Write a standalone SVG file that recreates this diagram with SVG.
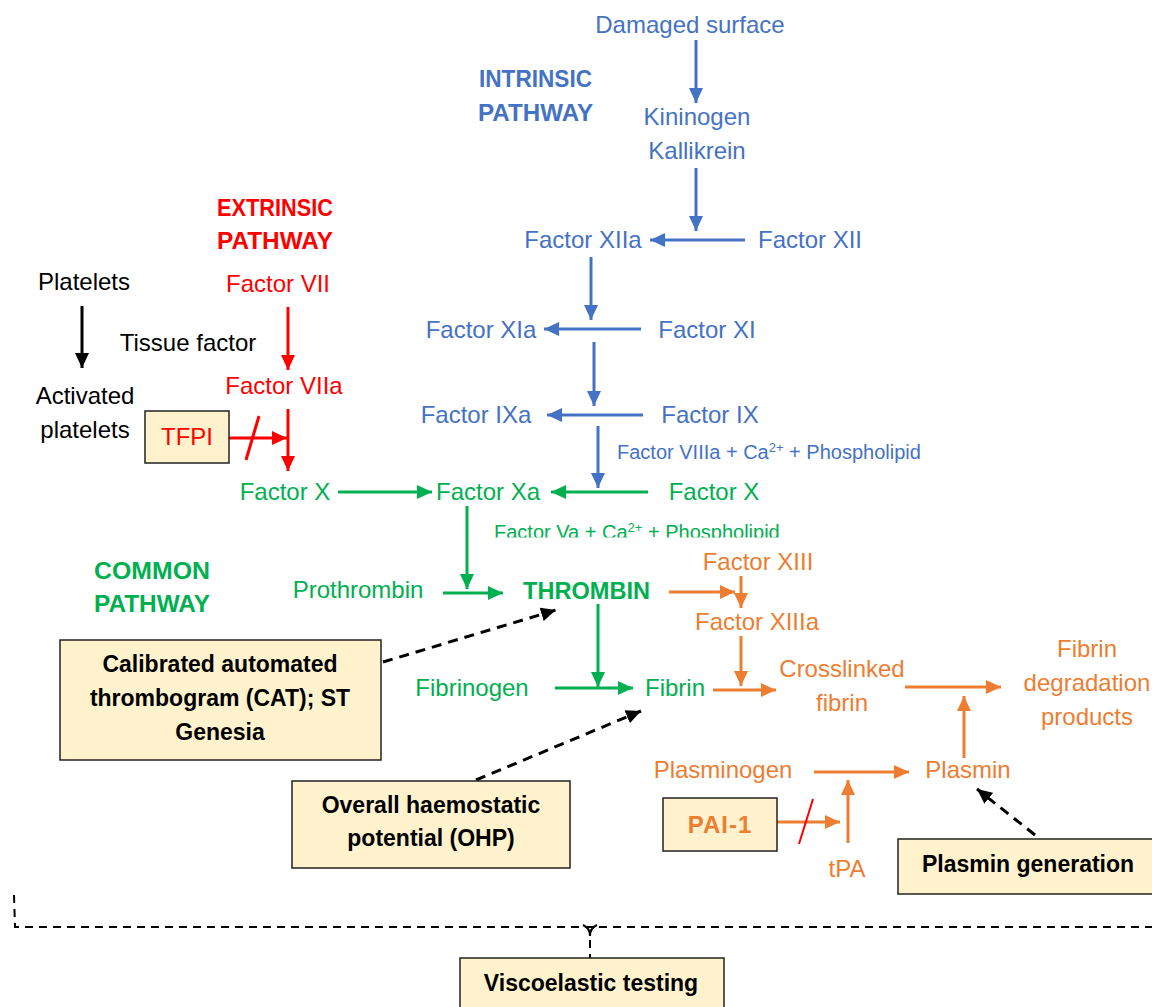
<svg xmlns="http://www.w3.org/2000/svg" width="1152" height="1007" viewBox="0 0 1152 1007">
<style>
text{font-family:"Liberation Sans",Arial,sans-serif;font-size:24px}
.b{fill:#4472C4}.g{fill:#00B050}.r{fill:#FF0000}.o{fill:#ED7D31}.k{fill:#000}
.hd{font-weight:bold;font-size:23px}
.sm{font-size:20px}
.bx{font-weight:bold;font-size:23px;fill:#000}
.box{fill:#FFF2CC;stroke:#222;stroke-width:1.5}
.lb{stroke:#4472C4;stroke-width:3;fill:none}
.lg{stroke:#00B050;stroke-width:3;fill:none}
.lr{stroke:#FF0000;stroke-width:3;fill:none}
.lo{stroke:#ED7D31;stroke-width:3;fill:none}
.lk{stroke:#000;stroke-width:3;fill:none}
.dk{stroke:#000;stroke-width:3;fill:none;stroke-dasharray:10 7}
.dt{stroke:#000;stroke-width:2;fill:none;stroke-dasharray:8 6}
</style>
<defs>
<marker id="ab" markerUnits="userSpaceOnUse" markerWidth="15" markerHeight="14" refX="15" refY="7" orient="auto"><path d="M0,0L15,7L0,14z" fill="#4472C4"/></marker>
<marker id="ag" markerUnits="userSpaceOnUse" markerWidth="15" markerHeight="14" refX="15" refY="7" orient="auto"><path d="M0,0L15,7L0,14z" fill="#00B050"/></marker>
<marker id="ar" markerUnits="userSpaceOnUse" markerWidth="15" markerHeight="14" refX="15" refY="7" orient="auto"><path d="M0,0L15,7L0,14z" fill="#FF0000"/></marker>
<marker id="ao" markerUnits="userSpaceOnUse" markerWidth="15" markerHeight="14" refX="15" refY="7" orient="auto"><path d="M0,0L15,7L0,14z" fill="#ED7D31"/></marker>
<marker id="ak" markerUnits="userSpaceOnUse" markerWidth="15" markerHeight="14" refX="15" refY="7" orient="auto"><path d="M0,0L15,7L0,14z" fill="#000"/></marker>
<clipPath id="clipVa"><rect x="480" y="510" width="330" height="27.5"/></clipPath>
</defs>
<rect width="1152" height="1007" fill="#fff"/>

<g id="connectors">
<line class="lb" x1="696" y1="40" x2="696" y2="103" marker-end="url(#ab)"/>
<line class="lb" x1="696" y1="168" x2="696" y2="231" marker-end="url(#ab)"/>
<line class="lb" x1="745" y1="240" x2="650" y2="240" marker-end="url(#ab)"/>
<line class="lb" x1="591" y1="257" x2="591" y2="320" marker-end="url(#ab)"/>
<line class="lb" x1="641" y1="329" x2="544" y2="329" marker-end="url(#ab)"/>
<line class="lb" x1="594" y1="342" x2="594" y2="406" marker-end="url(#ab)"/>
<line class="lb" x1="643" y1="415" x2="547" y2="415" marker-end="url(#ab)"/>
<line class="lb" x1="598" y1="426" x2="598" y2="488" marker-end="url(#ab)"/>
<line class="lg" x1="648" y1="492" x2="551" y2="492" marker-end="url(#ag)"/>
<line class="lg" x1="338" y1="492" x2="432" y2="492" marker-end="url(#ag)"/>
<line class="lg" x1="467" y1="506" x2="467" y2="589" marker-end="url(#ag)"/>
<line class="lg" x1="443" y1="593" x2="503" y2="593" marker-end="url(#ag)"/>
<line class="lg" x1="598" y1="604" x2="598" y2="687" marker-end="url(#ag)"/>
<line class="lg" x1="555" y1="688" x2="633" y2="688" marker-end="url(#ag)"/>
<line class="lk" x1="82" y1="306" x2="82" y2="368" marker-end="url(#ak)"/>
<line class="lr" x1="288" y1="307" x2="288" y2="370" marker-end="url(#ar)"/>
<line class="lr" x1="288" y1="409" x2="288" y2="471" marker-end="url(#ar)"/>
<line class="lr" x1="229" y1="438" x2="287" y2="438" marker-end="url(#ar)"/>
<line class="lr" x1="246" y1="460" x2="259" y2="416"/>
<line class="lo" x1="669" y1="592" x2="735" y2="592" marker-end="url(#ao)"/>
<line class="lo" x1="741" y1="576" x2="741" y2="608" marker-end="url(#ao)"/>
<line class="lo" x1="741" y1="636" x2="741" y2="686" marker-end="url(#ao)"/>
<line class="lo" x1="713" y1="690" x2="776" y2="690" marker-end="url(#ao)"/>
<line class="lo" x1="905" y1="687" x2="1001" y2="687" marker-end="url(#ao)"/>
<line class="lo" x1="964" y1="758" x2="964" y2="696" marker-end="url(#ao)"/>
<line class="lo" x1="814" y1="772" x2="909" y2="772" marker-end="url(#ao)"/>
<line class="lo" x1="848" y1="843" x2="848" y2="780" marker-end="url(#ao)"/>
<line class="lo" x1="777" y1="822" x2="840" y2="822" marker-end="url(#ao)"/>
<line x1="799" y1="844" x2="813" y2="799" stroke="#FF0000" stroke-width="2"/>
<line class="dk" x1="383" y1="662" x2="556" y2="610" marker-end="url(#ak)"/>
<line class="dk" x1="476" y1="780" x2="641" y2="711" marker-end="url(#ak)"/>
<line class="dk" x1="1035" y1="835" x2="977" y2="789" marker-end="url(#ak)"/>
<path class="dt" d="M14,895 L15,927 L1152,927"/>
<path d="M583,925 Q590,928 590,936 M597,925 Q590,928 590,936" stroke="#000" stroke-width="2" fill="none"/>
<line x1="590" y1="940" x2="590" y2="958" stroke="#000" stroke-width="2" stroke-dasharray="8 6"/>
</g>

<g id="intrinsic-title"><text class="hd b" x="479" y="87" textLength="113" lengthAdjust="spacingAndGlyphs">INTRINSIC</text><text class="hd b" x="478" y="121" textLength="115" lengthAdjust="spacingAndGlyphs">PATHWAY</text></g>
<g id="damaged-surface"><text class="b" x="690" y="33" text-anchor="middle">Damaged surface</text></g>
<g id="kininogen"><text class="b" x="697" y="125" text-anchor="middle">Kininogen</text><text class="b" x="697" y="159" text-anchor="middle">Kallikrein</text></g>
<g id="factor-xiia"><text class="b" x="583" y="248" text-anchor="middle">Factor XIIa</text></g>
<g id="factor-xii"><text class="b" x="810" y="248" text-anchor="middle">Factor XII</text></g>
<g id="factor-xia"><text class="b" x="481" y="338" text-anchor="middle">Factor XIa</text></g>
<g id="factor-xi"><text class="b" x="707" y="338" text-anchor="middle">Factor XI</text></g>
<g id="factor-ixa"><text class="b" x="476" y="423" text-anchor="middle">Factor IXa</text></g>
<g id="factor-ix"><text class="b" x="710" y="423" text-anchor="middle">Factor IX</text></g>
<g id="cofactor-viiia"><text class="b sm" x="617" y="459">Factor VIIIa + Ca<tspan dy="-7" font-size="13">2+</tspan><tspan dy="7"> + Phospholipid</tspan></text></g>

<g id="extrinsic-title"><text class="hd r" x="217" y="216" textLength="116" lengthAdjust="spacingAndGlyphs">EXTRINSIC</text><text class="hd r" x="217" y="249" textLength="116" lengthAdjust="spacingAndGlyphs">PATHWAY</text></g>
<g id="platelets"><text class="k" x="84" y="290" text-anchor="middle">Platelets</text></g>
<g id="tissue-factor"><text class="k" x="188" y="351" text-anchor="middle">Tissue factor</text></g>
<g id="activated-platelets"><text class="k" x="85" y="404" text-anchor="middle">Activated</text><text class="k" x="85" y="438" text-anchor="middle">platelets</text></g>
<g id="factor-vii"><text class="r" x="278" y="292" text-anchor="middle">Factor VII</text></g>
<g id="factor-viia"><text class="r" x="284" y="394" text-anchor="middle">Factor VIIa</text></g>
<g id="tfpi"><rect class="box" x="145" y="411" width="84" height="52"/><text class="r" x="187" y="445" text-anchor="middle">TFPI</text></g>

<g id="common-title"><text class="hd g" x="94" y="579" textLength="116" lengthAdjust="spacingAndGlyphs">COMMON</text><text class="hd g" x="94" y="612" textLength="116" lengthAdjust="spacingAndGlyphs">PATHWAY</text></g>
<g id="factor-x-left"><text class="g" x="285" y="500" text-anchor="middle">Factor X</text></g>
<g id="factor-xa"><text class="g" x="488" y="500" text-anchor="middle">Factor Xa</text></g>
<g id="factor-x-right"><text class="g" x="714" y="500" text-anchor="middle">Factor X</text></g>
<g id="cofactor-va" clip-path="url(#clipVa)"><text class="g sm" x="494" y="539">Factor Va + Ca<tspan dy="-7" font-size="13">2+</tspan><tspan dy="7"> + Phospholipid</tspan></text></g>
<g id="prothrombin"><text class="g" x="358" y="598" text-anchor="middle">Prothrombin</text></g>
<g id="thrombin"><text class="hd g" x="523" y="599" textLength="127" lengthAdjust="spacingAndGlyphs">THROMBIN</text></g>
<g id="fibrinogen"><text class="g" x="472" y="696" text-anchor="middle">Fibrinogen</text></g>
<g id="fibrin"><text class="g" x="675" y="696" text-anchor="middle">Fibrin</text></g>

<g id="factor-xiii"><text class="o" x="758" y="570" text-anchor="middle">Factor XIII</text></g>
<g id="factor-xiiia"><text class="o" x="757" y="630" text-anchor="middle">Factor XIIIa</text></g>
<g id="crosslinked-fibrin"><text class="o" x="842" y="677" text-anchor="middle">Crosslinked</text><text class="o" x="842" y="711" text-anchor="middle">fibrin</text></g>
<g id="fdp"><text class="o" x="1087" y="657" text-anchor="middle">Fibrin</text><text class="o" x="1087" y="691" text-anchor="middle">degradation</text><text class="o" x="1087" y="725" text-anchor="middle">products</text></g>
<g id="plasminogen"><text class="o" x="723" y="778" text-anchor="middle">Plasminogen</text></g>
<g id="plasmin"><text class="o" x="968" y="778" text-anchor="middle">Plasmin</text></g>
<g id="tpa"><text class="o" x="847" y="877" text-anchor="middle">tPA</text></g>
<g id="pai-1"><rect class="box" x="663" y="798" width="114" height="53"/><text class="hd o" x="720" y="833" text-anchor="middle" style="font-size:24px;letter-spacing:1px">PAI-1</text></g>

<g id="cat"><rect class="box" x="60" y="640" width="321" height="120"/><text class="bx" x="220" y="672" text-anchor="middle">Calibrated automated</text><text class="bx" x="220" y="706" text-anchor="middle">thrombogram (CAT); ST</text><text class="bx" x="220" y="740" text-anchor="middle">Genesia</text></g>
<g id="ohp"><rect class="box" x="292" y="781" width="278" height="87"/><text class="bx" x="431" y="813" text-anchor="middle">Overall haemostatic</text><text class="bx" x="431" y="846" text-anchor="middle">potential (OHP)</text></g>
<g id="plasmin-generation"><rect class="box" x="898" y="839" width="262" height="55"/><text class="bx" x="1028" y="872" text-anchor="middle">Plasmin generation</text></g>
<g id="viscoelastic"><rect class="box" x="460" y="958" width="264" height="60"/><text class="bx" x="591" y="991" text-anchor="middle">Viscoelastic testing</text></g>
</svg>
